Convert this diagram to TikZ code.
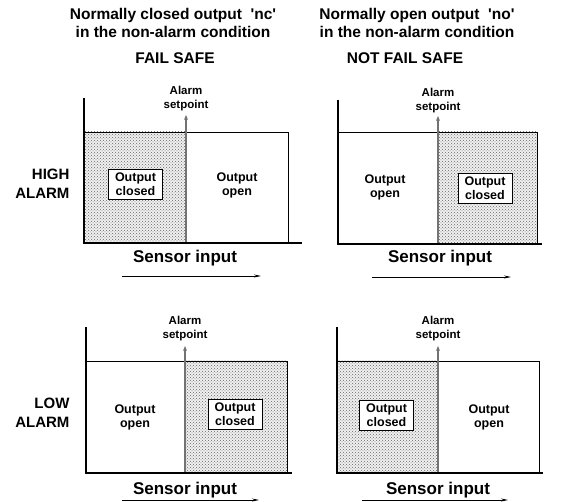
\documentclass[tikz,border=0pt]{standalone}
\usepackage{fontspec}
\setmainfont{Liberation Sans}
\usetikzlibrary{arrows.meta,patterns}
\begin{document}
\begin{tikzpicture}[x=1pt,y=-1pt,
  axisline/.style={line width=2.6pt},
  boxline/.style={line width=0.9pt},
  spline/.style={draw=black!55, line width=1.6pt, -{Stealth[length=5pt,width=4pt]}},
  shadebase/.style={fill=black!6},
  shaded/.style={pattern=crosshatch dots, pattern color=black!60},
  titletext/.style={font=\fontsize{15.5}{18}\selectfont\bfseries, align=center},
  rowlab/.style={font=\fontsize{15}{19}\selectfont\bfseries, align=right, anchor=east},
  sensortext/.style={font=\fontsize{17}{20}\selectfont\bfseries},
  alarmlab/.style={font=\fontsize{11.5}{14}\selectfont\bfseries, align=center},
  outlab/.style={font=\fontsize{12.5}{14}\selectfont\bfseries, align=center},
  closedbox/.style={outlab, draw, line width=0.9pt, fill=white, minimum width=54pt, minimum height=30pt, inner sep=1pt},
  senarrow/.style={-{Stealth[length=7pt,width=3pt]}, line width=0.8pt}
]
\useasboundingbox (0,0) rectangle (565,502);

% titles
\node[titletext] (t1) at (173,23) {Normally closed output\ \ \textquotesingle nc\textquotesingle\\in the non-alarm condition};
\node[titletext] (t2) at (417,23) {Normally open output\ \ \textquotesingle no\textquotesingle\\in the non-alarm condition};
\node[titletext] (fs) at (175,58) {FAIL SAFE};
\node[titletext] (nfs) at (405,58) {NOT FAIL SAFE};

% row labels
\node[rowlab] (hi) at (73,183.5) {HIGH\\ALARM};
\node[rowlab] (lo) at (73,413) {LOW\\ALARM};

% ---------- top left panel ----------
\fill[shadebase] (84,132) rectangle (186,243);
\path[shaded] (84,132) rectangle (186,243);
\draw[boxline] (84,132) -- (288,132) -- (288,243);
\coordinate (tlb) at (186,243);
\coordinate (tlt) at (186,115);
\draw[spline] (tlb) -- (tlt);
\draw[axisline] (84,98) -- (84,243) -- (302,243);
\node[alarmlab] (tla) at (186,99) {Alarm\\setpoint};
\node[closedbox] (tlc) at (135.5,184.5) {Output\\closed};
\node[outlab] (tlo) at (237,185) {Output\\open};
\node[sensortext] (tls) at (185,258) {Sensor input};
\coordinate (tls1) at (122,276);
\coordinate (tls2) at (261,276);
\draw[senarrow] (tls1) -- (tls2);

% ---------- top right panel ----------
\fill[shadebase] (438,132) rectangle (537,244);
\path[shaded] (438,132) rectangle (537,244);
\draw[boxline] (338,132) -- (537,132) -- (537,244);
\coordinate (trb) at (438,244);
\coordinate (trt) at (438,116);
\draw[spline] (trb) -- (trt);
\draw[axisline] (338,100) -- (338,244) -- (542,244);
\node[alarmlab] (tra) at (438,101) {Alarm\\setpoint};
\node[closedbox] (trc) at (485,188.5) {Output\\closed};
\node[outlab] (tro) at (385,187) {Output\\open};
\node[sensortext] (trs) at (440,258) {Sensor input};
\coordinate (trs1) at (372,277);
\coordinate (trs2) at (511,277);
\draw[senarrow] (trs1) -- (trs2);

% ---------- bottom left panel ----------
\fill[shadebase] (185,361) rectangle (287,473);
\path[shaded] (185,361) rectangle (287,473);
\draw[boxline] (86,361) -- (287,361) -- (287,473);
\coordinate (blb) at (185,473);
\coordinate (blt) at (185,346);
\draw[spline] (blb) -- (blt);
\draw[axisline] (86,327) -- (86,473) -- (292,473);
\node[alarmlab] (bla) at (185,328.5) {Alarm\\setpoint};
\node[closedbox] (blc) at (235,414) {Output\\closed};
\node[outlab] (blo) at (135,417) {Output\\open};
\node[sensortext] (bls) at (185,490) {Sensor input};
\coordinate (bls1) at (122,500);
\coordinate (bls2) at (259,500);
\draw[senarrow] (bls1) -- (bls2);

% ---------- bottom right panel ----------
\fill[shadebase] (337,361) rectangle (438,473);
\path[shaded] (337,361) rectangle (438,473);
\draw[boxline] (337,361) -- (539,361) -- (539,473);
\coordinate (brb) at (438,473);
\coordinate (brt) at (438,346);
\draw[spline] (brb) -- (brt);
\draw[axisline] (337,327) -- (337,473) -- (543,473);
\node[alarmlab] (bra) at (438,328.5) {Alarm\\setpoint};
\node[closedbox] (brc) at (386.5,415) {Output\\closed};
\node[outlab] (bro) at (489,417) {Output\\open};
\node[sensortext] (brs) at (438,490) {Sensor input};
\coordinate (brs1) at (362,500);
\coordinate (brs2) at (508,500);
\draw[senarrow] (brs1) -- (brs2);
\end{tikzpicture}
\end{document}
